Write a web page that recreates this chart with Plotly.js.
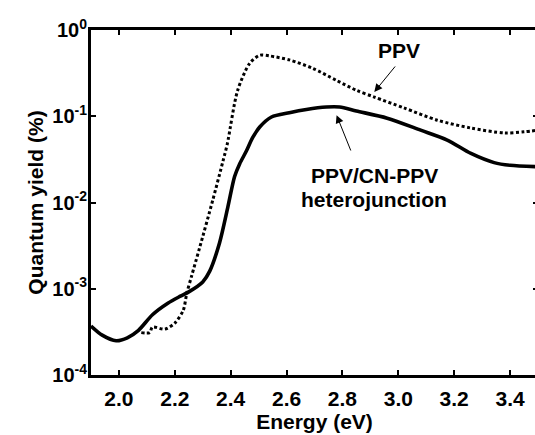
<!DOCTYPE html>
<html>
<head>
<meta charset="utf-8">
<script src="https://cdn.plot.ly/plotly-3.0.1.min.js"></script>
<style>
html, body { margin: 0; padding: 0; overflow: hidden; background: #fff; width: 535px; height: 435px; }
#chart { width: 545px; height: 435px; }
</style>
</head>
<body>
<div id="chart"></div>
<script>
// Heterojunction (solid) curve
const hetEnergy = [1.90, 1.94, 1.99, 2.03, 2.07, 2.12, 2.175, 2.22, 2.25, 2.30, 2.325, 2.36, 2.39, 2.414, 2.432, 2.457, 2.478, 2.504, 2.546, 2.61, 2.671, 2.743, 2.79, 2.85, 2.96, 3.08, 3.175, 3.26, 3.343, 3.40, 3.50];
const hetYield = [3.7e-4, 2.9e-4, 2.5e-4, 2.7e-4, 3.3e-4, 5.0e-4, 6.8e-4, 8.2e-4, 9.2e-4, 1.2e-3, 1.6e-3, 3.4e-3, 8.9e-3, 0.020, 0.028, 0.040, 0.056, 0.075, 0.098, 0.110, 0.120, 0.128, 0.128, 0.115, 0.095, 0.069, 0.053, 0.037, 0.029, 0.027, 0.026];

// PPV (dotted) curve
const ppvEnergy = [2.08, 2.11, 2.12, 2.164, 2.20, 2.23, 2.243, 2.26, 2.289, 2.336, 2.371, 2.388, 2.425, 2.468, 2.504, 2.54, 2.61, 2.693, 2.779, 2.85, 2.914, 3.02, 3.14, 3.26, 3.38, 3.45, 3.50];
const ppvYield = [3.1e-4, 3.1e-4, 3.6e-4, 3.4e-4, 4.0e-4, 5.6e-4, 8.9e-4, 1.4e-3, 3.0e-3, 0.0107, 0.029, 0.048, 0.20, 0.41, 0.51, 0.50, 0.45, 0.36, 0.26, 0.20, 0.167, 0.125, 0.090, 0.073, 0.064, 0.066, 0.069];

// Tick labels
const xTickVals = [2.0, 2.2, 2.4, 2.6, 2.8, 3.0, 3.2, 3.4];
const xTickText = ["2.0", "2.2", "2.4", "2.6", "2.8", "3.0", "3.2", "3.4"];
const yTickVals = [1e-4, 1e-3, 1e-2, 1e-1, 1];
const yTickText = ["10<sup>-4</sup>", "10<sup>-3</sup>", "10<sup>-2</sup>", "10<sup>-1</sup>", "10<sup>0</sup>"];

const FONT = "Arial, 'Liberation Sans', Helvetica, sans-serif";

const traces = [
  {
    x: ppvEnergy, y: ppvYield, type: 'scatter', mode: 'lines', name: 'PPV',
    line: { color: '#000', width: 3, dash: '3px,2.5px', shape: 'spline', smoothing: 0.8 }
  },
  {
    x: hetEnergy, y: hetYield, type: 'scatter', mode: 'lines', name: 'PPV/CN-PPV heterojunction',
    line: { color: '#000', width: 3.6, shape: 'spline', smoothing: 0.8 }
  }
];

const L = Math.log10;
const annFont = { family: FONT, size: 21, color: '#000', weight: 'bold' };

const layout = {
  width: 545, height: 435,
  margin: { l: 91, r: 7, t: 30, b: 60 },
  paper_bgcolor: '#fff', plot_bgcolor: '#fff',
  showlegend: false,
  xaxis: {
    range: [1.9, 3.5],
    tickmode: 'array', tickvals: xTickVals, ticktext: xTickText,
    ticks: 'inside', ticklen: 5, tickwidth: 2, tickcolor: '#000',
    showline: true, linewidth: 3, linecolor: '#000', mirror: 'ticks',
    showgrid: false, zeroline: false, ticklabelstandoff: 3,
    tickfont: { family: FONT, size: 21, color: '#000', weight: 'bold' },
    title: { text: 'Energy (eV)', font: { family: FONT, size: 21, color: '#000', weight: 'bold' }, standoff: 6 }
  },
  yaxis: {
    type: 'log', range: [-4, 0],
    tickmode: 'array', tickvals: yTickVals, ticktext: yTickText,
    ticks: 'inside', ticklen: 5, tickwidth: 2, tickcolor: '#000',
    showline: true, linewidth: 3, linecolor: '#000', mirror: 'ticks',
    showgrid: false, zeroline: false, ticklabelstandoff: -3,
    tickfont: { family: FONT, size: 20, color: '#000', weight: 'bold' },
    title: { text: 'Quantum yield (%)', font: { family: FONT, size: 21, color: '#000', weight: 'bold' }, standoff: 3 }
  },
  annotations: [
    { x: 3.004, y: L(0.586), xref: 'x', yref: 'y', text: 'PPV', showarrow: false, font: annFont },
    { x: 2.914, y: L(0.191), ax: 2.993, ay: L(0.393), xref: 'x', yref: 'y', axref: 'x', ayref: 'y',
      text: '', showarrow: true, arrowhead: 2, arrowsize: 1.6, arrowwidth: 1, arrowcolor: '#000' },
    { x: 2.914, y: L(0.0205), xref: 'x', yref: 'y', text: 'PPV/CN-PPV', showarrow: false, font: annFont },
    { x: 2.914, y: L(0.0109), xref: 'x', yref: 'y', text: 'heterojunction', showarrow: false, font: annFont },
    { x: 2.779, y: L(0.103), ax: 2.832, ay: L(0.0385), xref: 'x', yref: 'y', axref: 'x', ayref: 'y',
      text: '', showarrow: true, arrowhead: 2, arrowsize: 1.6, arrowwidth: 1, arrowcolor: '#000' }
  ]
};

Plotly.newPlot('chart', traces, layout, { displayModeBar: false, staticPlot: true });
</script>
</body>
</html>
